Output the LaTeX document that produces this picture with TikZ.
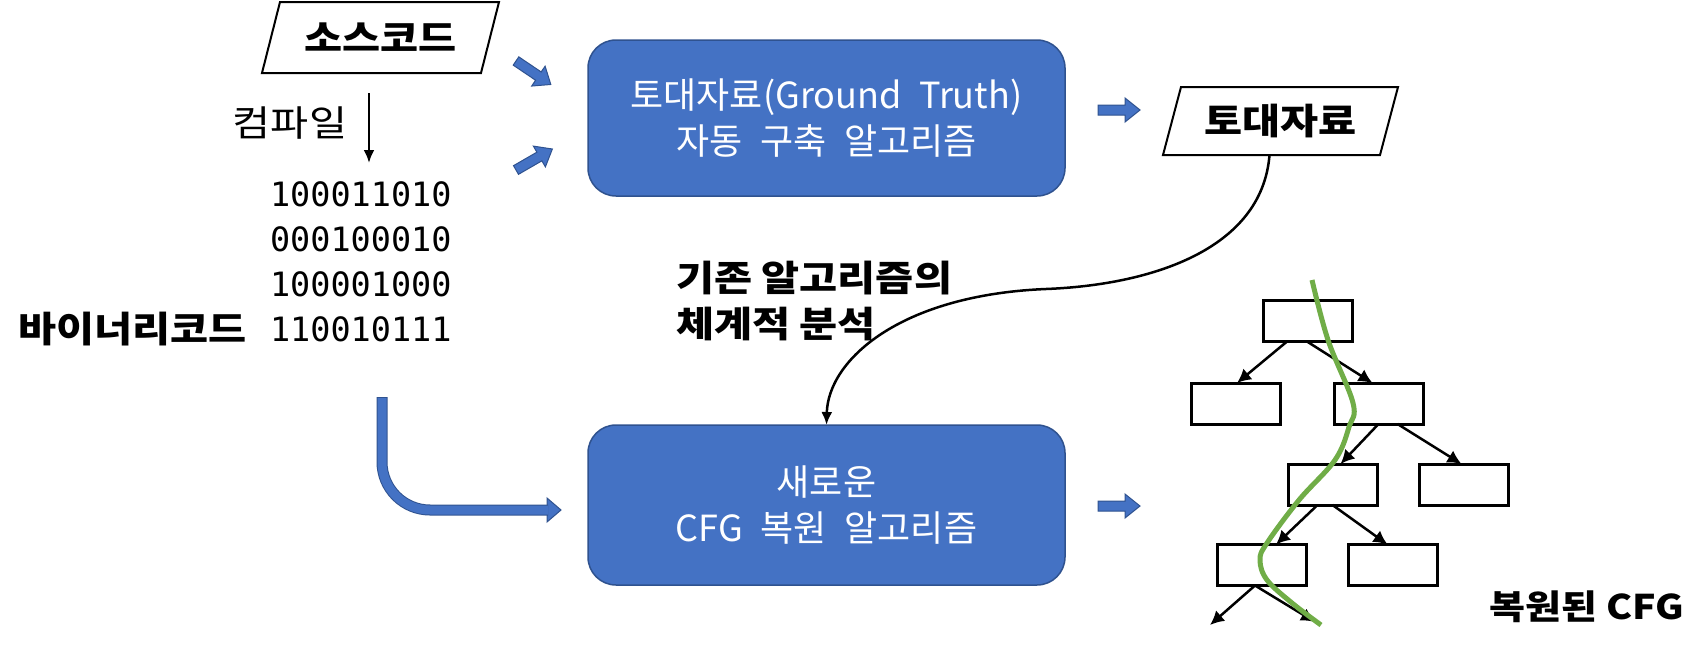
\documentclass[tikz,border=0pt]{standalone}
\usepackage{fontspec}
\setmainfont{Noto Sans CJK KR}
\newfontfamily\krw{Noto Sans CJK KR}[WordSpace=2.2]
\newfontfamily\krs{Noto Sans CJK KR}[FakeStretch=1.15]
\newfontfamily\binfont{DejaVu Sans Mono}
\usetikzlibrary{calc,arrows.meta}
\definecolor{blueA}{HTML}{4472C4}
\definecolor{blueD}{HTML}{2F528F}
\definecolor{greenA}{HTML}{70AD47}
\tikzset{
  every node/.style={inner sep=0pt, outer sep=0pt},
  bluebox/.style={draw=blueD, line width=1.5pt, fill=blueA, rounded corners=28pt,
    minimum width=477pt, text=white, align=center, font=\krw\fontsize{36}{46}\selectfont},
  lbl/.style={font=\krs\fontsize{36}{46}\selectfont},
  lblb/.style={font=\krs\bfseries\fontsize{36}{46}\selectfont},
  paraline/.style={line width=2pt},
  cfgbox/.style={draw, line width=3pt, fill=white, minimum width=89pt, minimum height=41pt},
  cfgedge/.style={line width=2.5pt, -{Latex[length=14pt,width=14pt]}},
  blackline/.style={line width=2.5pt, -{Latex[length=13pt,width=11pt]}},
  greenline/.style={line width=5pt, draw=greenA},
  blockarrow/.pic={\filldraw[fill=blueA,draw=blueD,line width=1pt]
    (0,-5) -- (27,-5) -- (27,-12) -- (42,0) -- (27,12) -- (27,5) -- (0,5) -- cycle;}
}
\begin{document}
\begin{tikzpicture}[x=1pt,y=-1pt]
\useasboundingbox (0,0) rectangle (1708,653);

% source code parallelogram
\node[lblb, minimum width=237pt, minimum height=71pt] (src) at (380.5,37.5) {소스코드};
\draw[paraline] ($(src.north west)+(18,0)$) -- (src.north east) -- ($(src.south east)+(-18,0)$) -- (src.south west) -- cycle;

% compile
\node[lbl] (comp) at (290,123) {컴파일};
\coordinate (c1) at (369,93);
\coordinate (c2) at (369,163);
\draw[line width=2.5pt, -{Latex[length=13pt,width=11pt]}] (c1) -- (c2);

% binary
\node[font=\binfont\fontsize{33.5}{45}\selectfont, align=left, anchor=west] (bin) at (270,262)
  {100011010\\000100010\\100001000\\110010111};
\node[lblb, anchor=base east] (binlbl) at (247,342) {바이너리코드};

% blue boxes
\node[bluebox, minimum height=156pt] (box1) at (826.5,118) {토대자료(Ground Truth)\\자동 구축 알고리즘};
\node[bluebox, minimum height=160pt] (box2) at (826.5,505) {새로운\\CFG 복원 알고리즘};

% small block arrows
\pic[rotate=-34] at (516,61) {blockarrow};
\pic[rotate=30] at (516,170) {blockarrow};
\pic at (1098,110) {blockarrow};
\pic at (1098,506) {blockarrow};

% ground truth parallelogram
\node[lblb, minimum width=235pt, minimum height=68pt] (td) at (1280.5,121) {토대자료};
\draw[paraline] ($(td.north west)+(18,0)$) -- (td.north east) -- ($(td.south east)+(-18,0)$) -- (td.south west) -- cycle;

% curve from ground truth to new algorithm
\draw[blackline] ($(td.south)+(-11,0)$) .. controls (1262,250) and (1150,285) .. (1046,289)
  .. controls (900,295) and (828,360) .. (box2.north);
\node[lblb, align=left, anchor=west] (anal) at (676,301) {기존 알고리즘의\\체계적 분석};

% bent arrow
\coordinate (bstart) at (382,397);
\coordinate (btip) at (548,510);
\filldraw[fill=blueA, draw=blueD, line width=1pt] ($(btip)+(-1,-12)$) -- ($(btip)+(13,0)$) -- ($(btip)+(-1,12)$) -- cycle;
\draw[line width=11pt, draw=blueD, rounded corners=48pt] (bstart) |- (btip);
\draw[line width=9pt, draw=blueA, rounded corners=48pt] ($(bstart)+(0,1)$) |- (btip);

% CFG tree
\node[cfgbox] (b1) at (1308,321) {};
\node[cfgbox] (b2) at (1236,403.5) {};
\node[cfgbox] (b3) at (1378.5,403.5) {};
\node[cfgbox] (b4) at (1332.5,484.5) {};
\node[cfgbox] (b5) at (1463.5,484.5) {};
\node[cfgbox] (b6) at (1262,565) {};
\node[cfgbox] (b7) at (1392.5,565) {};
\coordinate (o1) at (1210,625);
\coordinate (o2) at (1315,622);
\draw[cfgedge] ([xshift=-21pt]b1.south) -- ([xshift=1pt]b2.north);
\draw[cfgedge] ([xshift=-1pt]b1.south) -- ([xshift=-6pt]b3.north);
\draw[cfgedge] (b3.south) -- ([xshift=8pt]b4.north);
\draw[cfgedge] ([xshift=19pt]b3.south) -- ([xshift=-2pt]b5.north);
\draw[cfgedge] ([xshift=-15pt]b4.south) -- ([xshift=14pt]b6.north);
\draw[cfgedge] (b4.south) -- ([xshift=-5pt]b7.north);
\draw[cfgedge] ([xshift=-7pt]b6.south) -- (o1);
\draw[cfgedge] ([xshift=-7pt]b6.south) -- (o2);

\draw[greenline] plot[smooth, tension=0.6] coordinates {(1312,280) (1328,340) (1353,403) (1349,427) (1335,460) (1299,500) (1267,543) (1260,560) (1267,580) (1292,603) (1321,625)};

\node[lblb, font=\krs\bfseries\fontsize{34}{44}\selectfont] (cfglbl) at (1587,607) {복원된 CFG};
\end{tikzpicture}
\end{document}
